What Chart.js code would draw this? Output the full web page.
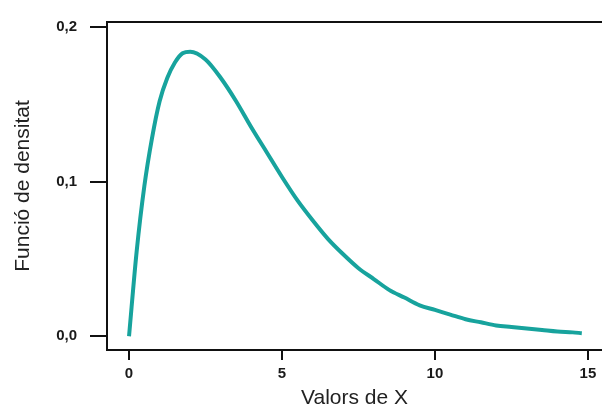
<!DOCTYPE html>
<html>
<head>
<meta charset="utf-8">
<title>Funció de densitat</title>
<script src="https://cdn.jsdelivr.net/npm/chart.js@4.4.0/dist/chart.umd.min.js"></script>
<style>
  html, body { margin: 0; padding: 0; background: #fff; overflow: hidden; }
  .chart-wrapper { position: relative; width: 602px; height: 409px; }
</style>
</head>
<body>
<div class="chart-wrapper">
  <canvas id="myChart" width="602" height="409"></canvas>
</div>
<script>
// values
const xValues = [0, 0.25, 0.5, 0.75, 1, 1.25, 1.5, 1.75, 2, 2.5, 3, 3.5, 4, 4.5, 5, 5.5, 6, 6.5, 7, 7.5,
  8, 8.5, 9, 9.5, 10, 10.5, 11, 11.5, 12, 12.5, 13, 13.5, 14, 14.5, 14.8];
const densityValues = [0, 0.055, 0.097, 0.128, 0.152, 0.167, 0.177, 0.183, 0.184, 0.179, 0.167, 0.152,
  0.135, 0.119, 0.103, 0.088, 0.075, 0.063, 0.053, 0.044, 0.037, 0.030, 0.025, 0.020, 0.017, 0.014,
  0.011, 0.009, 0.007, 0.006, 0.005, 0.004, 0.003, 0.0025, 0.002];
const xTicks = [0, 5, 10, 15];
const yTicks = [0, 0.1, 0.2];

const points = xValues.map((x, i) => ({ x: x, y: densityValues[i] }));

// top line of the frame
const topBorder = {
  id: 'topBorder',
  afterDraw(chart) {
    const a = chart.chartArea;
    const c = chart.ctx;
    c.save();
    c.strokeStyle = '#111';
    c.lineWidth = 2;
    c.beginPath();
    c.moveTo(a.left - 1, a.top);
    c.lineTo(a.right, a.top);
    c.stroke();
    c.restore();
  }
};

const ctx = document.getElementById('myChart');
const myChart = new Chart(ctx, {
  type: 'scatter',
  data: {
    datasets: [{
      data: points,
      showLine: true,
      borderColor: '#17a39d',
      borderWidth: 4,
      pointRadius: 0,
      cubicInterpolationMode: 'monotone'
    }]
  },
  options: {
    responsive: false,
    animation: false,
    layout: { padding: { top: 19, right: 0, left: 0, bottom: 0 } },
    plugins: { legend: { display: false }, tooltip: { enabled: false } },
    scales: {
      x: {
        type: 'linear',
        min: -0.72,
        max: 15.46,
        afterBuildTicks: (s) => { s.ticks = xTicks.map(v => ({ value: v })); },
        afterFit: (s) => { s.height = 59; },
        border: { display: true, color: '#111', width: 2 },
        grid: { drawOnChartArea: false, drawTicks: true, tickLength: 10, color: '#111', lineWidth: 2 },
        ticks: { color: '#1a1a1a', padding: 5, maxRotation: 0,
          font: { family: 'Liberation Sans', size: 15, weight: 'bold' } },
        title: { display: true, text: 'Valors de X', color: '#222', padding: 0,
          font: { family: 'Liberation Sans', size: 21, lineHeight: 1 } }
      },
      y: {
        min: -0.0089,
        max: 0.2032,
        afterBuildTicks: (s) => { s.ticks = yTicks.map(v => ({ value: v })); },
        afterFit: (s) => { s.width = 107; },
        border: { display: true, color: '#111', width: 2 },
        grid: { drawOnChartArea: false, drawTicks: true, tickLength: 17, color: '#111', lineWidth: 2 },
        ticks: { color: '#1a1a1a', padding: 13, font: { family: 'Liberation Sans', size: 15, weight: 'bold' },
          callback: (v) => v.toFixed(1).replace('.', ',') },
        title: { display: true, text: 'Funció de densitat', color: '#222', padding: { top: 13, bottom: 0 },
          font: { family: 'Liberation Sans', size: 21, lineHeight: 1 } }
      }
    }
  },
  plugins: [topBorder]
});
</script>
</body>
</html>
